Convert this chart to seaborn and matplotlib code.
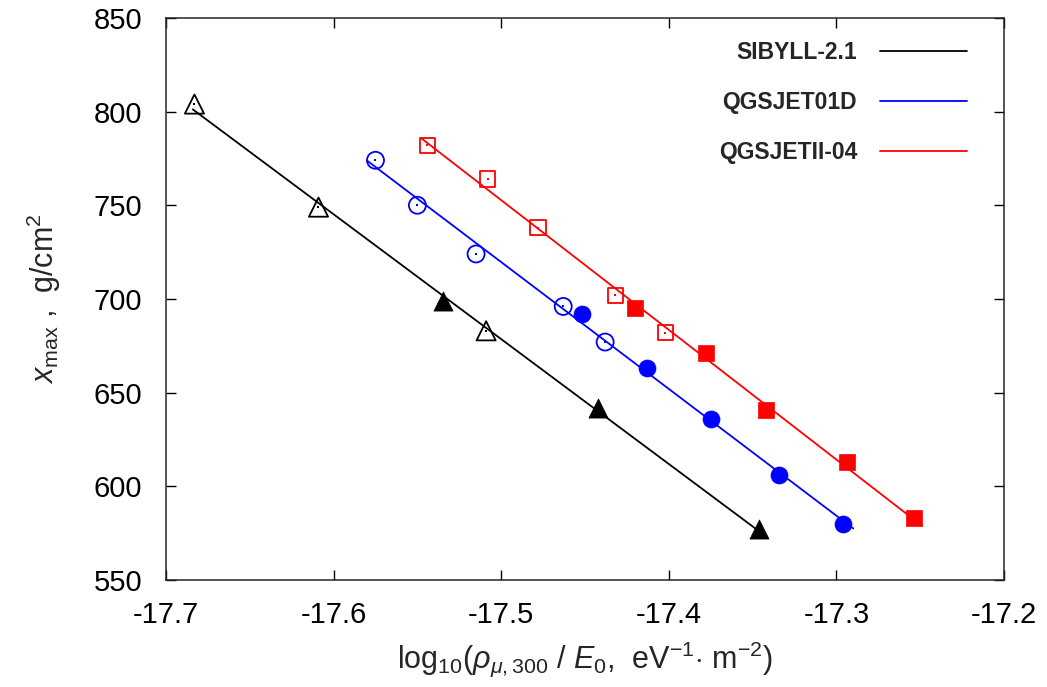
import numpy as np
import pandas as pd
import matplotlib
matplotlib.use("Agg")
import matplotlib.pyplot as plt
from matplotlib.lines import Line2D
import seaborn as sns

# SIBYLL-2.1 (triangles)
sib_open_x = [-17.683, -17.609, -17.509]
sib_open_y = [804, 749, 683]
sib_fill_x = [-17.535, -17.442, -17.346]
sib_fill_y = [699, 642, 577]
sib_range = [-17.684, -17.343]

# QGSJET01D (circles)
q01_open_x = [-17.575, -17.550, -17.515, -17.463, -17.438]
q01_open_y = [774, 750, 724, 696, 677]
q01_fill_x = [-17.452, -17.413, -17.375, -17.334, -17.296]
q01_fill_y = [692, 663, 636, 606, 580]
q01_range = [-17.580, -17.290]

# QGSJETII-04 (squares)
q2_open_x = [-17.544, -17.508, -17.478, -17.432, -17.402]
q2_open_y = [782, 764, 738, 702, 682]
q2_fill_x = [-17.420, -17.378, -17.342, -17.294, -17.254]
q2_fill_y = [695, 671, 641, 613, 583]
q2_range = [-17.548, -17.249]

models = ["SIBYLL-2.1", "QGSJET01D", "QGSJETII-04"]
colors = ["#000000", "#0000ff", "#ff0000"]
markers = ["^", "o", "s"]
msizes = [190, 150, 120]

x_ticks = [-17.7, -17.6, -17.5, -17.4, -17.3, -17.2]
y_ticks = [550, 600, 650, 700, 750, 800, 850]

sns.set_theme(style="ticks")
plt.rcParams.update({
    "font.family": ["Liberation Sans", "DejaVu Sans"],
    "mathtext.fontset": "custom",
    "mathtext.rm": "Liberation Sans",
    "mathtext.it": "Liberation Sans:italic",
    "mathtext.bf": "Liberation Sans:bold",
    "axes.linewidth": 1.1,
    "xtick.direction": "in",
    "ytick.direction": "in",
    "xtick.major.size": 7,
    "ytick.major.size": 7,
    "xtick.major.width": 1.0,
    "ytick.major.width": 1.0,
    "xtick.top": True,
    "ytick.right": True,
})

fig, ax = plt.subplots(figsize=(10.47, 6.87), dpi=100)
fig.subplots_adjust(left=0.1585, right=0.959, top=0.974, bottom=0.1557)

groups = [
    (sib_open_x, sib_open_y, sib_fill_x, sib_fill_y, sib_range),
    (q01_open_x, q01_open_y, q01_fill_x, q01_fill_y, q01_range),
    (q2_open_x, q2_open_y, q2_fill_x, q2_fill_y, q2_range),
]

for (ox, oy, fx, fy, xr), name, col, mk, ms in zip(groups, models, colors, markers, msizes):
    # straight-line fit through all points of the model
    allx = np.array(ox + fx)
    ally = np.array(oy + fy)
    k, b = np.polyfit(allx, ally, 1)
    fit = pd.DataFrame({"x": xr, "y": [k * xr[0] + b, k * xr[1] + b]})
    sns.lineplot(data=fit, x="x", y="y", color=col, lw=1.3, ax=ax, zorder=2)

    df_open = pd.DataFrame({"x": ox, "y": oy})
    df_fill = pd.DataFrame({"x": fx, "y": fy})
    sns.scatterplot(data=df_open, x="x", y="y", marker=mk, s=ms, facecolor="none",
                    edgecolor=col, linewidth=1.3, ax=ax, zorder=3)
    sns.scatterplot(data=df_open, x="x", y="y", marker="s", s=2, color=col,
                    linewidth=0, ax=ax, zorder=4)
    sns.scatterplot(data=df_fill, x="x", y="y", marker=mk, s=ms, color=col,
                    edgecolor=col, linewidth=0.5, ax=ax, zorder=3)

ax.set_xlim(-17.7, -17.2)
ax.set_ylim(550, 850)
ax.set_xticks(x_ticks)
ax.set_yticks(y_ticks)
ax.set_xticklabels([f"{v:.1f}" for v in x_ticks])
ax.set_yticklabels([str(v) for v in y_ticks])
ax.tick_params(axis="x", labelsize=21, pad=15, colors="black")
ax.tick_params(axis="y", labelsize=21, pad=17, colors="black")

ax.set_xlabel(r"log$_{10}$($\rho_{\mu,300}$ / $E_0$,  eV$^{-1}$$\cdot$ m$^{-2}$)",
              fontsize=22, labelpad=8)
ax.set_ylabel(r"$x_{\rm max}$ ,  g/cm$^2$", fontsize=22, labelpad=22)

handles = [Line2D([], [], color=c, lw=1.3) for c in colors]
leg = ax.legend(handles, models, loc="upper right", bbox_to_anchor=(0.956, 0.959),
                frameon=False, markerfirst=False, handlelength=3.8,
                handletextpad=1.0, labelspacing=1.18, borderaxespad=0, borderpad=0,
                prop={"weight": "bold", "size": 16.5})

fig.savefig("out.png", dpi=100)
